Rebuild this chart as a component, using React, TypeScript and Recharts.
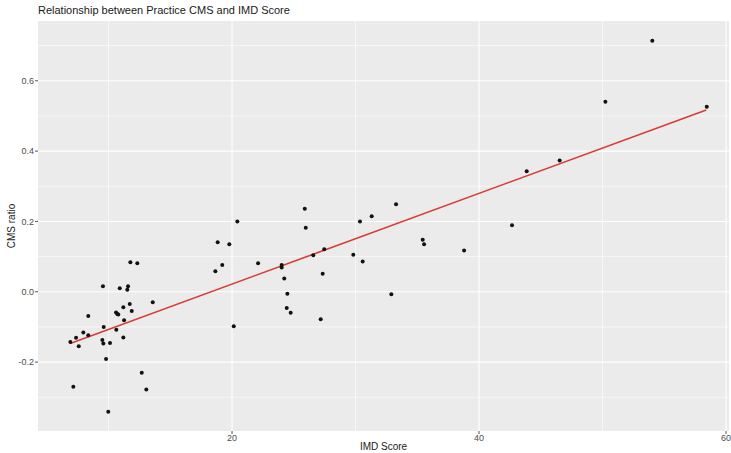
import React from "react";
import {
  ScatterChart,
  Scatter,
  XAxis,
  YAxis,
  CartesianGrid,
  ReferenceLine,
  Label,
} from "recharts";

const imdScore = [
  11.77, 12.33, 9.55, 10.91, 11.58, 11.52, 13.58, 11.2, 11.72, 8.36,
  10.61, 10.71, 10.79, 11.88, 11.26, 9.61, 7.96, 10.63, 7.37, 8.36,
  11.2, 6.91, 9.5, 9.58, 10.12, 7.59, 9.8, 12.69, 7.15, 13.06,
  9.98, 25.89, 20.43, 30.36, 31.31, 25.97, 18.84, 19.78, 19.21, 18.65,
  22.11, 24.02, 24.02, 26.58, 27.47, 29.82, 30.58, 24.23, 27.34, 24.48,
  24.43, 24.75, 27.18, 20.14, 33.28, 32.9, 35.44, 35.55, 38.79, 42.67,
  43.86, 46.53, 54.03, 50.23, 58.44,
];

const cmsRatio = [
  0.084, 0.081, 0.016, 0.01, 0.016, 0.006, -0.03, -0.044, -0.035, -0.069,
  -0.059, -0.063, -0.065, -0.055, -0.081, -0.1, -0.116, -0.108, -0.131, -0.124,
  -0.13, -0.143, -0.137, -0.147, -0.146, -0.155, -0.191, -0.23, -0.27, -0.278,
  -0.341, 0.236, 0.2, 0.2, 0.215, 0.182, 0.141, 0.135, 0.076, 0.058,
  0.081, 0.076, 0.069, 0.104, 0.121, 0.105, 0.086, 0.038, 0.051, -0.006,
  -0.046, -0.06, -0.078, -0.098, 0.249, -0.007, 0.148, 0.135, 0.117, 0.189,
  0.343, 0.373, 0.714, 0.54, 0.526,
];

const trendX = [6.9, 58.4];
const trendY = [-0.147, 0.517];

const xMajorTicks = [20, 40, 60];
const xMinorTicks = [10, 30, 50];
const yMajorTicks = [-0.2, 0, 0.2, 0.4, 0.6];
const yMinorTicks = [-0.3, -0.1, 0.1, 0.3, 0.5, 0.7];

const points = imdScore.map((x, i) => ({ x, y: cmsRatio[i] }));
const trend = trendX.map((x, i) => ({ x, y: trendY[i] }));

const FONT = "'Liberation Sans', Arial, sans-serif";

export default function App() {
  return (
    <div
      style={{
        position: "absolute",
        left: 0,
        top: 0,
        width: 731,
        height: 453,
        background: "#ffffff",
        fontFamily: FONT,
      }}
    >
      <div
        style={{
          position: "absolute",
          left: 38,
          top: 4,
          fontSize: 11,
          color: "#1a1a1a",
          fontFamily: FONT,
          whiteSpace: "nowrap",
        }}
      >
        Relationship between Practice CMS and IMD Score
      </div>
      <ScatterChart
        width={731}
        height={453}
        margin={{ top: 21, right: 2, bottom: 0, left: 0 }}
      >
        <CartesianGrid
          fill="#EBEBEB"
          stroke="#ffffff"
          strokeWidth={1.1}
          verticalValues={xMajorTicks}
          horizontalValues={yMajorTicks}
        />
        {xMinorTicks.map((v) => (
          <ReferenceLine key={"xm" + v} x={v} stroke="#ffffff" strokeWidth={0.6} />
        ))}
        {yMinorTicks.map((v) => (
          <ReferenceLine key={"ym" + v} y={v} stroke="#ffffff" strokeWidth={0.6} />
        ))}
        <XAxis
          type="number"
          dataKey="x"
          domain={[4.29, 60.24]}
          ticks={xMajorTicks}
          height={22}
          allowDataOverflow
          axisLine={false}
          tickSize={3}
          tickMargin={1}
          tickLine={{ stroke: "#555" }}
          tick={{ fill: "#4d4d4d", fontSize: 9, fontFamily: FONT }}
        >
          <Label
            content={({ viewBox }: any) => (
              <text
                x={viewBox.x + viewBox.width / 2}
                y={450}
                textAnchor="middle"
                fontSize={10}
                fill="#1a1a1a"
                fontFamily={FONT}
              >
                IMD Score
              </text>
            )}
          />
        </XAxis>
        <YAxis
          type="number"
          dataKey="y"
          domain={[-0.396, 0.77]}
          ticks={yMajorTicks}
          width={38}
          allowDataOverflow
          axisLine={false}
          tickSize={3}
          tickMargin={1}
          tickLine={{ stroke: "#555" }}
          tickFormatter={(v: number) => v.toFixed(1)}
          tick={{ fill: "#4d4d4d", fontSize: 9, fontFamily: FONT }}
        >
          <Label
            content={({ viewBox }: any) => {
              const cy = viewBox.y + viewBox.height / 2;
              return (
                <text
                  x={15}
                  y={cy}
                  textAnchor="middle"
                  fontSize={10}
                  fill="#1a1a1a"
                  fontFamily={FONT}
                  transform={`rotate(-90, 15, ${cy})`}
                >
                  CMS ratio
                </text>
              );
            }}
          />
        </YAxis>
        <Scatter
          data={trend}
          isAnimationActive={false}
          line={{ stroke: "#d93a32", strokeWidth: 1.6 }}
          shape={() => null}
        />
        <Scatter
          data={points}
          isAnimationActive={false}
          shape={(props: any) => (
            <circle cx={props.cx} cy={props.cy} r={2} fill="#111111" />
          )}
        />
      </ScatterChart>
    </div>
  );
}
